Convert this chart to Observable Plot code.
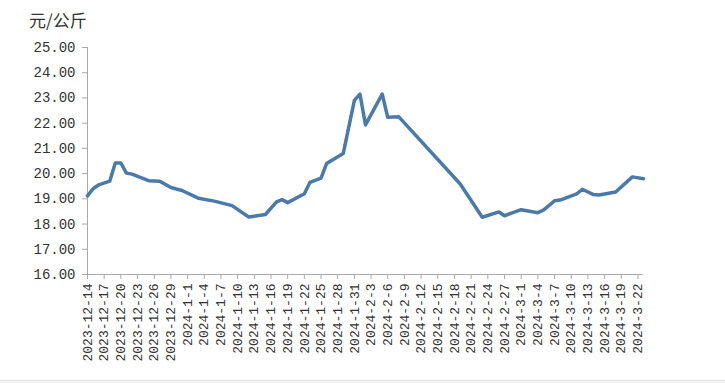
<!DOCTYPE html>
<html><head><meta charset="utf-8">
<script src="https://cdn.jsdelivr.net/npm/d3@7"></script>
<script src="https://cdn.jsdelivr.net/npm/@observablehq/plot@0.6"></script>
<style>
body{margin:0;background:#fff;width:725px;height:383px;overflow:hidden;position:relative;}
#title{position:absolute;left:29px;top:10px;font-family:"Noto Sans CJK SC";font-size:17px;color:#333;line-height:20px;}
#chart{position:absolute;left:0;top:30px;}
#foot{position:absolute;left:0;top:380px;width:725px;height:3px;background:#f2f2f2;border-top:1px solid #e2e2e2;}
</style></head><body>
<div id="title">元/公斤</div>
<div id="chart"></div>
<div id="foot"></div>
<script>
const dates = ["2023-12-14","2023-12-15","2023-12-16","2023-12-18","2023-12-19","2023-12-20","2023-12-21","2023-12-22","2023-12-25","2023-12-27","2023-12-29","2023-12-31","2024-1-3","2024-1-6","2024-1-9","2024-1-12","2024-1-15","2024-1-17","2024-1-18","2024-1-19","2024-1-22","2024-1-23","2024-1-25","2024-1-26","2024-1-29","2024-1-31","2024-2-1","2024-2-2","2024-2-5","2024-2-6","2024-2-8","2024-2-19","2024-2-23","2024-2-26","2024-2-27","2024-3-1","2024-3-4","2024-3-5","2024-3-7","2024-3-8","2024-3-11","2024-3-12","2024-3-14","2024-3-15","2024-3-18","2024-3-21","2024-3-23"];
const prices = [19.12,19.4,19.55,19.7,20.42,20.42,20.02,19.98,19.72,19.7,19.45,19.33,19.02,18.9,18.73,18.28,18.38,18.88,18.97,18.85,19.2,19.65,19.82,20.4,20.8,22.9,23.15,21.93,23.15,22.23,22.25,19.6,18.27,18.48,18.33,18.57,18.45,18.55,18.92,18.95,19.2,19.38,19.17,19.15,19.27,19.87,19.8];
const xTickLabels = ["2023-12-14","2023-12-17","2023-12-20","2023-12-23","2023-12-26","2023-12-29","2024-1-1","2024-1-4","2024-1-7","2024-1-10","2024-1-13","2024-1-16","2024-1-19","2024-1-22","2024-1-25","2024-1-28","2024-1-31","2024-2-3","2024-2-6","2024-2-9","2024-2-12","2024-2-15","2024-2-18","2024-2-21","2024-2-24","2024-2-27","2024-3-1","2024-3-4","2024-3-7","2024-3-10","2024-3-13","2024-3-16","2024-3-19","2024-3-22"];
const yTicks = [16,17,18,19,20,21,22,23,24,25];
const xDomain = ["2023-12-14","2024-3-23"];

const parse = d3.utcParse("%Y-%m-%d");
const fmt = d => `${d.getUTCFullYear()}-${d.getUTCMonth()+1}-${d.getUTCDate()}`;
const data = dates.map((d,i) => ({date: parse(d), price: prices[i]}));
const x0 = parse(xDomain[0]), x1 = parse(xDomain[1]);

const chart = Plot.plot({
  width: 725, height: 353,
  marginLeft: 87, marginRight: 82, marginTop: 17, marginBottom: 109,
  style: {fontFamily: "Liberation Mono", fontSize: "13px", color: "#333", background: "transparent"},
  x: {type: "utc", domain: [x0, x1]},
  y: {domain: [16, 25]},
  marks: [
    Plot.axisY({ticks: yTicks, tickFormat: d => d.toFixed(2), tickSize: 5, tickPadding: 7, fontSize: 14, stroke: "#aaa", fill: "#333", label: null}),
    Plot.axisX({ticks: xTickLabels.map(parse), tickFormat: fmt, tickSize: 5, tickPadding: 4, tickRotate: -90, stroke: "#aaa", fill: "#333", label: null}),
    Plot.ruleX([x0], {stroke: "#aaa"}),
    Plot.ruleY([16], {stroke: "#aaa"}),
    Plot.line(data, {x: "date", y: "price", stroke: "#4a7aab", strokeWidth: 3.5, strokeLinejoin: "round", strokeLinecap: "round"})
  ]
});
document.getElementById("chart").appendChild(chart);
</script>
</body></html>
